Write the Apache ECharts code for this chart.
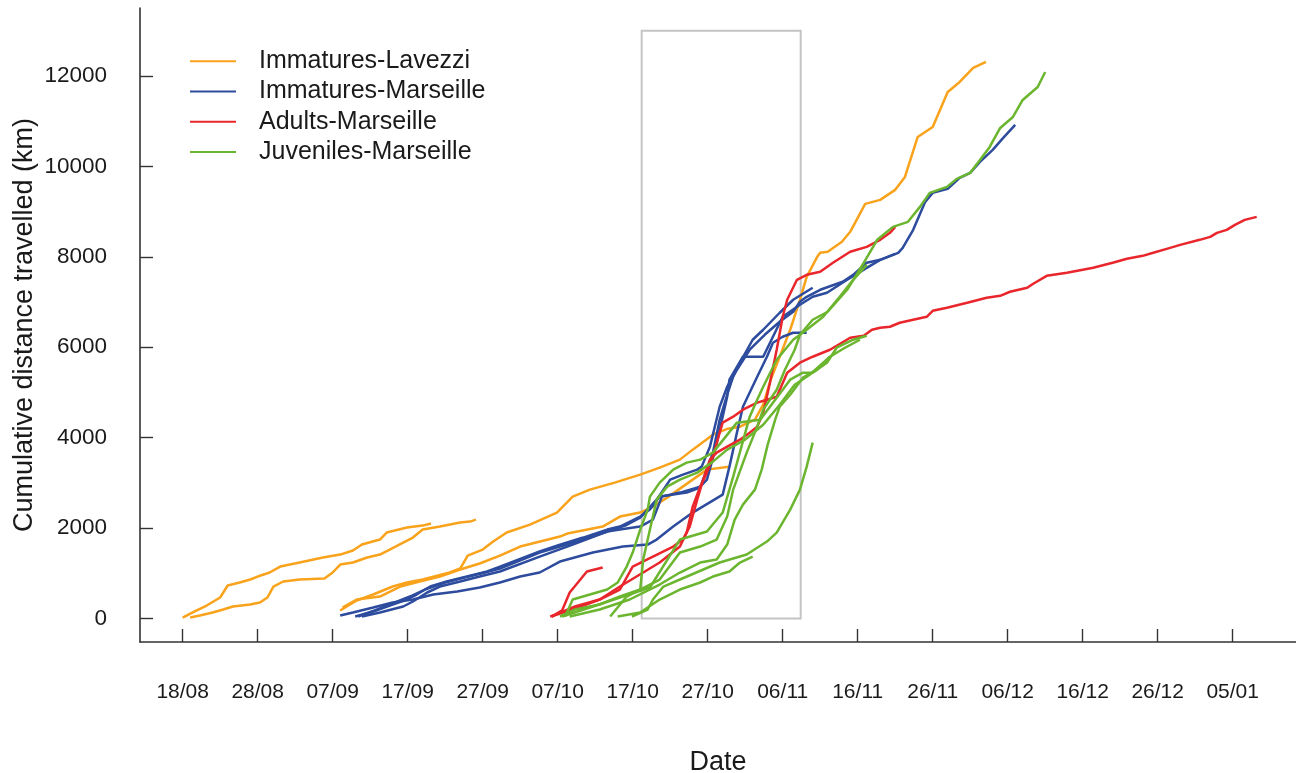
<!DOCTYPE html>
<html><head><meta charset="utf-8">
<script src="https://cdn.jsdelivr.net/npm/echarts@6/dist/echarts.min.js"></script>
<style>html,body{margin:0;padding:0;background:#fff}#c{width:1296px;height:773px}</style>
</head><body><div id="c"></div>
<script>
// x = days since 18/08, y = cumulative km
const xTickDays = [0,10,20,30,40,50,60,70,80,90,100,110,120,130,140];
const xTickLabels = ['18/08','28/08','07/09','17/09','27/09','07/10','17/10','27/10','06/11','16/11','26/11','06/12','16/12','26/12','05/01'];
const yTicks = [0,2000,4000,6000,8000,10000,12000];
const groupNames = ['Immatures-Lavezzi','Immatures-Marseille','Adults-Marseille','Juveniles-Marseille'];
const groupColors = ['#F9A21B','#2D4C9E','#E8262B','#6BB52F'];
const boxDays = [61.2, 82.4];
const boxKm = [0, 13000];

// Immatures-Lavezzi
const lav1 = [[0,20],[1.6,155],[3.2,287],[5.0,464],[6.0,729],[7.6,796],[9.0,862],[10.0,928],[11.6,1017],[13.0,1149],[15.6,1238],[18.7,1348],[21.0,1414],[22.7,1503],[23.9,1635],[26.3,1746],[27.2,1901],[29.9,2011],[32.0,2055],[33.1,2100]];
const lav2 = [[1.0,22],[2.3,66],[4.0,133],[5.4,199],[6.7,265],[9.0,309],[10.3,354],[11.3,464],[12.1,707],[13.4,818],[15.6,862],[18.9,884],[20.0,1017],[21.0,1193],[22.7,1238],[24.6,1348],[26.3,1414],[27.6,1525],[29.4,1680],[30.7,1790],[32.0,1967],[34.3,2033],[37.0,2122],[38.3,2144],[39.1,2188]];
const lav3 = [[21.0,177],[23.2,398],[25.4,530],[28.0,707],[29.9,796],[32.0,862],[35.6,1017],[37.0,1105],[38.0,1392],[40.0,1525],[41.4,1702],[43.2,1901],[46.3,2077],[49.9,2343],[52.0,2696],[54.3,2851],[57.6,3006],[61.0,3182],[63.6,3337],[66.3,3514],[68.0,3735],[70.7,4066],[72.7,4199],[74.3,4243],[76.3,4398],[77.4,4729],[78.4,5282],[79.6,5790],[81.0,6387],[82.3,7050],[83.2,7558],[84.6,8000],[85.0,8089],[86.0,8111],[87.9,8332],[89.0,8553],[91.0,9172],[93.0,9260],[95.0,9481],[96.3,9768],[98.0,10652],[100.0,10873],[102.0,11647],[103.6,11868],[105.4,12177],[107.1,12310]];
const lav4 = [[21.3,243],[23.2,420],[26.3,486],[29.0,707],[31.6,818],[34.3,928],[37.0,1083],[39.6,1216],[42.3,1392],[45.0,1591],[50.3,1812],[51.3,1879],[56.0,2033],[58.3,2254],[61.0,2343],[62.7,2475],[64.6,2674],[68.0,3072],[69.9,3293],[72.8,3359]];

// Immatures-Marseille
const imm1 = [[21.0,66],[22.7,133],[25.4,243],[28.0,354],[30.7,420],[33.4,530],[36.6,597],[39.6,685],[42.3,796],[45.0,928],[47.6,1017],[50.3,1260],[54.7,1459],[58.7,1591],[62.0,1635],[63.2,1746],[65.4,2033],[68.0,2343],[72.0,2740],[72.9,3359],[73.9,4111],[74.7,4685],[76.6,5348],[77.9,5790],[78.7,6100],[80.0,6232],[81.4,6321],[83.2,6321]];
const imm2 = [[23.0,44],[25.4,155],[28.0,309],[29.9,420],[31.2,530],[33.0,707],[35.2,818],[37.9,928],[40.6,1039],[42.3,1149],[47.6,1481],[50.3,1635],[53.4,1790],[56.6,1967],[58.3,2033],[61.0,2254],[62.3,2409],[63.6,2696],[67.2,2785],[69.0,2895],[70.7,3669],[71.6,4398],[72.6,4950],[73.4,5348],[74.3,5658],[76.0,6166],[77.4,6387],[79.6,6763],[81.4,7050],[84.0,7315]];
const imm3 = [[23.9,44],[26.3,133],[29.4,265],[30.7,376],[32.6,575],[34.3,707],[37.0,818],[39.6,928],[42.3,1039],[47.6,1370],[52.0,1635],[56.6,1923],[58.3,1967],[61.0,2033],[62.7,2188],[63.9,2696],[66.3,2785],[69.0,2917],[69.9,3072],[71.0,3735],[72.6,4906],[72.9,5282],[74.7,5790],[77.4,5790],[78.7,6232],[80.0,6674],[82.3,6940],[84.0,7116],[85.9,7205],[88.6,7492],[91.2,7757],[93.0,7934],[95.0,8067]];
const imm4 = [[23.4,44],[25.6,177],[28.3,354],[30.3,486],[32.3,641],[35.0,796],[37.6,906],[40.3,1017],[42.3,1105],[47.6,1459],[50.3,1591],[53.4,1746],[56.6,1923],[59.0,2055],[61.0,2232],[63.2,2630],[65.0,3072],[66.7,3182],[68.6,3293],[69.2,3359],[70.3,3801],[71.6,4685],[72.6,5127],[73.9,5503],[75.6,5945],[77.6,6276],[79.6,6564],[81.4,6785],[82.3,7006],[83.2,7116],[85.0,7271],[88.0,7448],[89.4,7602],[91.2,7868],[93.0,7934],[95.4,8089],[96.0,8199],[97.4,8597],[99.0,9216],[100.0,9415],[102.0,9503],[103.6,9746],[105.0,9857],[106.3,10100],[108.0,10365],[109.4,10630],[111.0,10917]];

// Adults-Marseille
const adu1 = [[49.2,40],[50.6,180],[51.6,575],[53.9,1039],[56.0,1127]];
const adu2 = [[49.0,44],[52.0,199],[55.6,420],[58.3,641],[60.0,1149],[62.7,1370],[65.4,1591],[66.7,1746],[67.6,2033],[68.6,2630],[69.4,3072],[70.3,3514],[71.2,3669],[72.6,3801],[74.3,3956],[75.6,4111],[76.6,4243],[77.4,4553],[78.3,5216],[79.2,5945],[80.0,6674],[80.6,7050],[81.9,7492],[83.2,7602],[85.0,7669],[86.7,7868],[89.0,8111],[91.2,8221],[93.0,8376],[94.3,8531],[95.0,8663]];
const adu3 = [[49.2,44],[52.3,265],[55.6,420],[58.3,707],[61.4,1017],[63.6,1238],[66.3,1591],[67.2,1901],[68.0,2475],[69.0,2917],[69.9,3227],[70.7,3580],[71.6,4111],[72.0,4332],[73.4,4464],[74.7,4619],[76.6,4774],[77.9,4840],[79.2,4906],[80.6,5437],[82.3,5658],[84.0,5790],[86.3,5945],[89.0,6210],[90.8,6254],[91.9,6387],[93.0,6431],[94.3,6453],[95.6,6542],[97.4,6608],[99.2,6674],[100.0,6807],[101.9,6873],[104.6,6984],[107.2,7094],[109.0,7138],[110.3,7227],[112.6,7315],[113.4,7404],[115.2,7580],[117.9,7647],[121.4,7757],[124.0,7868],[125.9,7956],[128.0,8022],[129.4,8089],[131.2,8177],[133.0,8265],[135.6,8376],[137.0,8442],[137.9,8531],[139.2,8597],[140.3,8707],[141.6,8818],[143.2,8884]];

// Juveniles-Marseille
const juv1 = [[50.3,44],[52.3,199],[55.6,309],[58.3,486],[61.0,641],[63.6,862],[66.3,1459],[69.0,1591],[71.2,1746],[72.6,2254],[73.4,2851],[75.2,3669],[76.6,4243],[77.4,4619],[79.2,5061],[80.3,5503],[81.6,5945],[82.3,6276],[84.0,6608],[86.0,6785],[88.6,7271],[90.8,7868],[92.6,8376],[94.7,8663],[96.7,8774],[98.3,9105],[99.6,9415],[101.9,9547],[103.2,9724],[105.0,9857],[106.3,10144],[107.6,10431],[109.0,10851],[110.7,11094],[112.0,11470],[114.0,11757],[115.0,12089]];
const juv2 = [[50.6,44],[54.3,243],[58.3,464],[62.3,685],[66.3,1746],[69.9,1923],[72.0,2343],[73.4,3138],[75.6,4464],[76.6,4840],[77.4,5127],[79.2,5724],[81.4,6166],[83.2,6387],[85.4,6674],[87.6,7116],[89.4,7492],[91.2,7823]];
const juv3 = [[51.0,44],[52.0,420],[54.3,530],[56.6,641],[58.0,796],[59.2,1149],[60.0,1459],[61.0,1967],[62.0,2409],[62.3,2696],[63.6,3006],[65.4,3293],[67.2,3448],[69.0,3514],[70.7,3669],[73.9,4332],[77.0,4398],[79.0,4840],[81.0,5282],[82.7,5437],[84.0,5437],[85.9,5658],[87.2,5989],[89.4,6166],[91.2,6254]];
const juv4 = [[57.0,44],[59.2,486],[61.0,641],[61.4,1304],[62.3,1967],[63.2,2630],[64.6,2917],[66.3,3072],[68.6,3227],[70.7,3470],[72.6,3735],[75.0,3956],[77.4,4287],[79.6,4729],[81.6,5171],[83.6,5392],[86.3,5790],[88.3,5989],[90.3,6166]];
const juv5 = [[59.9,44],[62.0,199],[62.7,420],[64.1,707],[66.3,862],[71.6,1238],[75.2,1414],[77.9,1702],[79.2,1901],[81.0,2409],[82.3,2851],[83.2,3359],[84.0,3890]];
const juv6 = [[58.0,44],[61.0,133],[63.6,420],[66.3,641],[69.0,796],[70.7,928],[72.9,1039],[74.3,1238],[76.0,1370]];
const juv7 = [[51.6,44],[55.6,199],[59.6,420],[63.6,751],[66.3,1017],[69.0,1238],[71.2,1304],[72.6,1635],[73.6,2188],[74.7,2519],[76.3,2851],[77.2,3293],[78.0,3845],[79.0,4398],[79.6,4685],[81.0,4950],[82.7,5326],[84.6,5503],[86.3,5790]];

const groups = [
  [lav1, lav2, lav3, lav4],
  [imm1, imm2, imm3, imm4],
  [adu1, adu2, adu3],
  [juv1, juv2, juv3, juv4, juv5, juv6, juv7]
];

const FONT = '"Liberation Sans", Arial, sans-serif';
const series = [];
groups.forEach((lines, g) => {
  lines.forEach(d => {
    series.push({
      name: groupNames[g], type: 'line', data: d, showSymbol: false, symbol: 'none',
      lineStyle: {color: groupColors[g], width: 2.5}, itemStyle: {color: groupColors[g]},
      z: 2 + g, silent: true
    });
  });
});
series.push({
  type: 'line', data: [], silent: true, z: 1,
  markArea: {
    silent: true,
    itemStyle: {color: 'rgba(0,0,0,0)', borderColor: '#c4c4c4', borderWidth: 2},
    data: [[{xAxis: boxDays[0], yAxis: boxKm[0]}, {xAxis: boxDays[1], yAxis: boxKm[1]}]]
  }
});

const chart = echarts.init(document.getElementById('c'), null, {renderer: 'canvas'});
chart.setOption({
  animation: false,
  textStyle: {fontFamily: FONT},
  grid: {left: 140, right: 0, top: 8, bottom: 131, containLabel: false, outerBoundsMode: 'none'},
  legend: {
    data: groupNames, orient: 'vertical', left: 190, top: 46, padding: 0,
    itemWidth: 46, itemHeight: 2, itemGap: 0, icon: 'rect',
    textStyle: {fontFamily: FONT, fontSize: 25, color: '#1a1a1a', lineHeight: 30.3, padding: [0,0,0,18]},
    itemStyle: {borderWidth: 0}
  },
  xAxis: {
    type: 'value', min: -5.69, max: 148.44,
    name: 'Date', nameLocation: 'middle', nameGap: 107, nameMoveOverlap: false,
    nameTextStyle: {fontFamily: FONT, fontSize: 27, color: '#1a1a1a'},
    axisLine: {show: true, onZero: false, lineStyle: {color: '#333', width: 1.6}},
    axisTick: {show: true, inside: true, length: 13, customValues: xTickDays, lineStyle: {color: '#333', width: 1.4}},
    axisLabel: {customValues: xTickDays, margin: 40, fontSize: 21, color: '#1a1a1a', fontFamily: FONT,
      formatter: v => xTickLabels[xTickDays.indexOf(Math.round(v))] || ''},
    splitLine: {show: false}
  },
  yAxis: {
    type: 'value', min: -520, max: 13504,
    name: 'Cumulative distance travelled (km)', nameLocation: 'middle', nameGap: 102, nameMoveOverlap: false,
    nameTextStyle: {fontFamily: FONT, fontSize: 27, color: '#1a1a1a'},
    axisLine: {show: true, onZero: false, lineStyle: {color: '#333', width: 1.6}},
    axisTick: {show: true, inside: true, length: 13, customValues: yTicks, lineStyle: {color: '#333', width: 1.4}},
    axisLabel: {customValues: yTicks, margin: 33, fontSize: 22.5, color: '#1a1a1a', fontFamily: FONT,
      formatter: v => String(v)},
    splitLine: {show: false}
  },
  series: series
});
</script></body></html>
